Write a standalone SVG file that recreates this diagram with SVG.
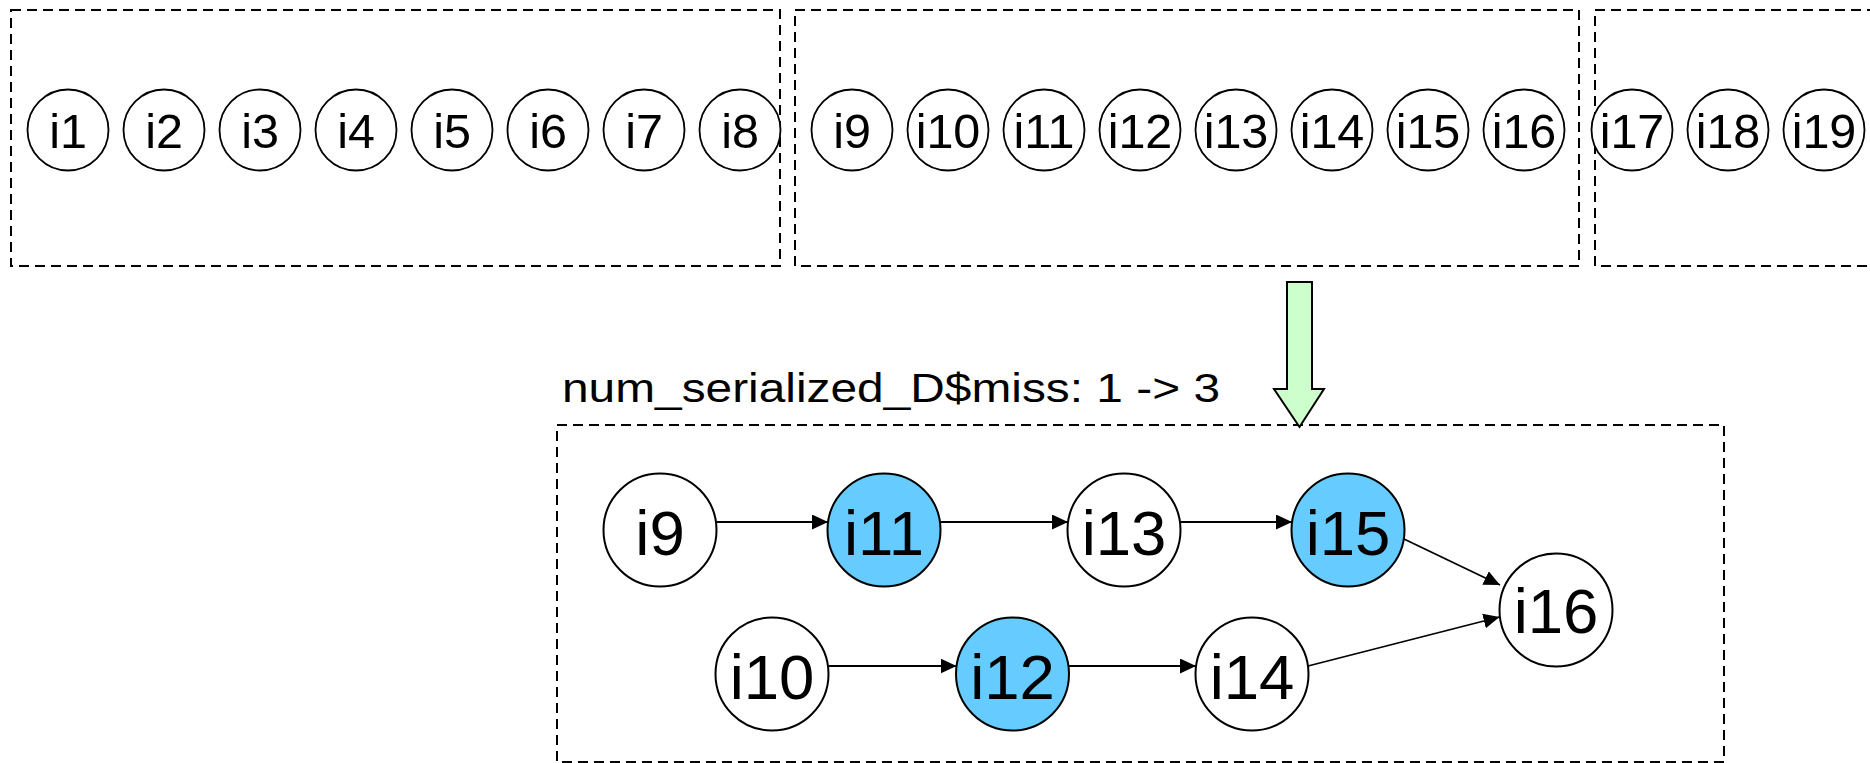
<svg xmlns="http://www.w3.org/2000/svg" width="1870" height="763" viewBox="0 0 1870 763">
<defs>
<style>
.box{fill:none;stroke:#000;stroke-width:2;stroke-dasharray:10 6}
.sn{fill:#fff;stroke:#000;stroke-width:1.8}
.st{font-family:"Liberation Sans",Arial,sans-serif;font-size:48.5px;text-anchor:middle;fill:#000}
.gn{fill:#fff;stroke:#000;stroke-width:2}
.gb{fill:#66ccff;stroke:#000;stroke-width:2}
.gt{font-family:"Liberation Sans",Arial,sans-serif;font-size:63.5px;text-anchor:middle;fill:#000}
.lbl{font-family:"Liberation Sans",Arial,sans-serif;font-size:40.5px;fill:#000}
.edge{fill:none;stroke:#000;stroke-width:1.8;marker-end:url(#ah)}
</style>
<marker id="ah" markerUnits="userSpaceOnUse" markerWidth="17" markerHeight="16" refX="16" refY="7.5" orient="auto">
<path d="M0,0 L16,7.5 L0,15 z" fill="#000"/>
</marker>
</defs>
<rect width="1870" height="763" fill="#fff"/>
<g id="frames">
<rect class="box" x="11" y="10" width="769" height="256"/>
<rect class="box" x="795" y="10" width="784" height="256"/>
<rect class="box" x="1595" y="10" width="400" height="256"/>
<rect class="box" x="557" y="425" width="1167" height="337"/>
</g>
<g id="top-row">
<g id="t1"><circle class="sn" cx="68" cy="130" r="40.5"/><text class="st" x="68" y="148">i1</text></g>
<g id="t2"><circle class="sn" cx="164" cy="130" r="40.5"/><text class="st" x="164" y="148">i2</text></g>
<g id="t3"><circle class="sn" cx="260" cy="130" r="40.5"/><text class="st" x="260" y="148">i3</text></g>
<g id="t4"><circle class="sn" cx="356" cy="130" r="40.5"/><text class="st" x="356" y="148">i4</text></g>
<g id="t5"><circle class="sn" cx="452" cy="130" r="40.5"/><text class="st" x="452" y="148">i5</text></g>
<g id="t6"><circle class="sn" cx="548" cy="130" r="40.5"/><text class="st" x="548" y="148">i6</text></g>
<g id="t7"><circle class="sn" cx="644" cy="130" r="40.5"/><text class="st" x="644" y="148">i7</text></g>
<g id="t8"><circle class="sn" cx="740" cy="130" r="40.5"/><text class="st" x="740" y="148">i8</text></g>
<g id="t9"><circle class="sn" cx="852" cy="130" r="40.5"/><text class="st" x="852" y="148">i9</text></g>
<g id="t10"><circle class="sn" cx="948" cy="130" r="40.5"/><text class="st" x="948" y="148">i10</text></g>
<g id="t11"><circle class="sn" cx="1044" cy="130" r="40.5"/><text class="st" x="1044" y="148">i11</text></g>
<g id="t12"><circle class="sn" cx="1140" cy="130" r="40.5"/><text class="st" x="1140" y="148">i12</text></g>
<g id="t13"><circle class="sn" cx="1236" cy="130" r="40.5"/><text class="st" x="1236" y="148">i13</text></g>
<g id="t14"><circle class="sn" cx="1332" cy="130" r="40.5"/><text class="st" x="1332" y="148">i14</text></g>
<g id="t15"><circle class="sn" cx="1428" cy="130" r="40.5"/><text class="st" x="1428" y="148">i15</text></g>
<g id="t16"><circle class="sn" cx="1524" cy="130" r="40.5"/><text class="st" x="1524" y="148">i16</text></g>
<g id="t17"><circle class="sn" cx="1632" cy="130" r="40.5"/><text class="st" x="1632" y="148">i17</text></g>
<g id="t18"><circle class="sn" cx="1728" cy="130" r="40.5"/><text class="st" x="1728" y="148">i18</text></g>
<g id="t19"><circle class="sn" cx="1824" cy="130" r="40.5"/><text class="st" x="1824" y="148">i19</text></g>
</g>
<g id="big-arrow">
<path d="M1287,282 L1312,282 L1312,389 L1324,389 L1299.5,427 L1274,389 L1287,389 Z" fill="#ccffcc" stroke="#000" stroke-width="2" stroke-linejoin="miter"/>
</g>
<text id="label" class="lbl" x="562" y="401.5" textLength="658" lengthAdjust="spacingAndGlyphs">num_serialized_D$miss: 1 -&gt; 3</text>
<g id="connectors">
<line class="edge" x1="716.5" y1="522" x2="828" y2="522"/>
<line class="edge" x1="940.5" y1="522" x2="1068" y2="522"/>
<line class="edge" x1="1180" y1="522" x2="1292" y2="522"/>
<line class="edge" x1="1404" y1="539" x2="1500" y2="585"/>
<line class="edge" x1="828" y1="666" x2="956.5" y2="666"/>
<line class="edge" x1="1069" y1="666" x2="1196" y2="666"/>
<line class="edge" x1="1308" y1="666" x2="1499.5" y2="617"/>
</g>
<g id="n9"><circle class="gn" cx="660" cy="530" r="56.5"/><text class="gt" x="660" y="555">i9</text></g>
<g id="n11"><circle class="gb" cx="884" cy="530" r="56.5"/><text class="gt" x="884" y="555">i11</text></g>
<g id="n13"><circle class="gn" cx="1124" cy="530" r="56.5"/><text class="gt" x="1124" y="555">i13</text></g>
<g id="n15"><circle class="gb" cx="1348" cy="530" r="56.5"/><text class="gt" x="1348" y="555">i15</text></g>
<g id="n10"><circle class="gn" cx="772" cy="674" r="56.5"/><text class="gt" x="772" y="699">i10</text></g>
<g id="n12"><circle class="gb" cx="1012.5" cy="674" r="56.5"/><text class="gt" x="1012.5" y="699">i12</text></g>
<g id="n14"><circle class="gn" cx="1252" cy="674" r="56.5"/><text class="gt" x="1252" y="699">i14</text></g>
<g id="n16"><circle class="gn" cx="1556" cy="610" r="56.5"/><text class="gt" x="1556" y="633">i16</text></g>
</svg>
